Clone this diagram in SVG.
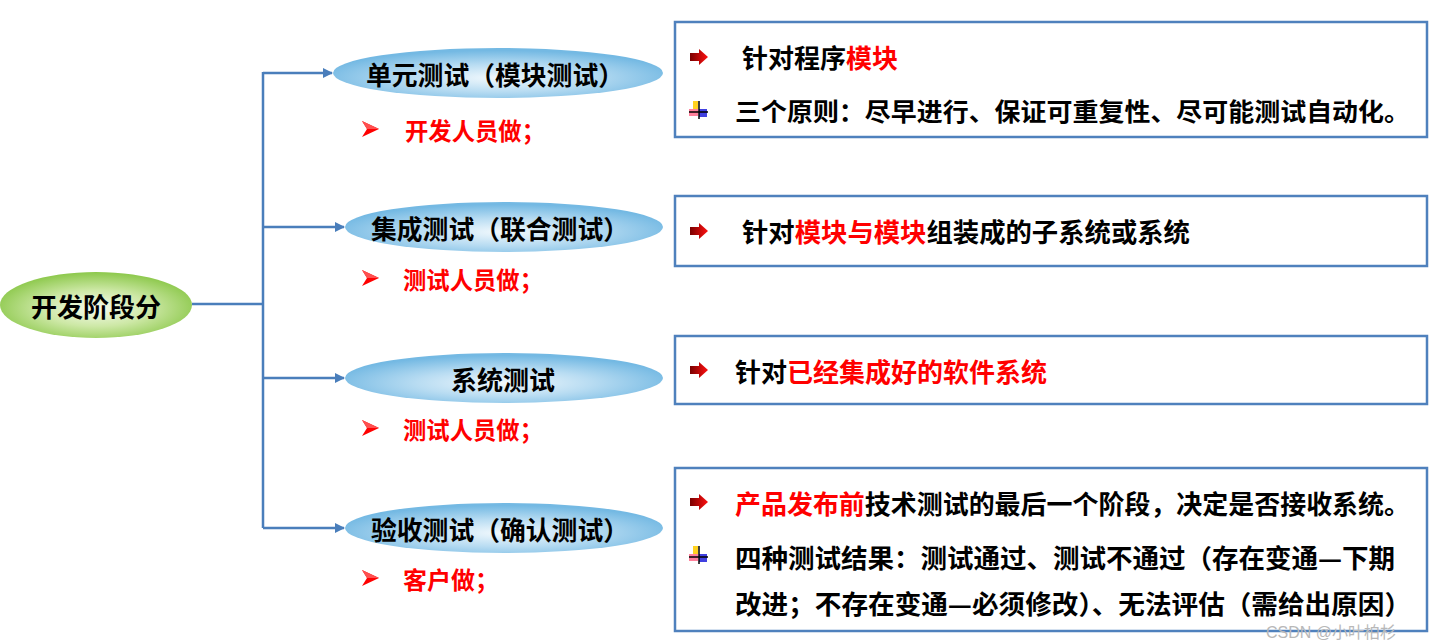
<svg xmlns="http://www.w3.org/2000/svg" width="1434" height="644" viewBox="0 0 1434 644">
<style>
.t{font-family:"Noto Sans CJK SC","Liberation Sans",sans-serif;font-weight:bold;dominant-baseline:central}
.k{fill:#000}
.r{fill:#ff0000}
.box{fill:#fff;stroke:#4f81bd;stroke-width:2.5}
.conn{fill:none;stroke:#4a7ebb;stroke-width:2.5}
</style>
<defs>
<radialGradient id="gb" cx="50%" cy="60%" r="55%">
<stop offset="0" stop-color="#f2f9fd"/>
<stop offset="0.5" stop-color="#b8dcf2"/>
<stop offset="1" stop-color="#74b9e3"/>
</radialGradient>
<radialGradient id="gg" cx="50%" cy="55%" r="55%">
<stop offset="0" stop-color="#f7fbef"/>
<stop offset="0.5" stop-color="#cde8a6"/>
<stop offset="1" stop-color="#8cc84b"/>
</radialGradient>
<linearGradient id="ga" x1="0" y1="0" x2="1" y2="0">
<stop offset="0" stop-color="#7a0000"/>
<stop offset="1" stop-color="#ff1010"/>
</linearGradient>
<marker id="arr" markerWidth="10" markerHeight="10" refX="9" refY="5" orient="auto" markerUnits="userSpaceOnUse">
<path d="M0,0 L10,5 L0,10 Z" fill="#4a7ebb"/>
</marker>
<g id="ra"><path d="M0,4 H9 V0 L18,8 L9,16 V12 H0 Z" fill="url(#ga)"/></g>
<g id="cx">
<rect x="4" y="0" width="5" height="8" fill="#ffd21f"/>
<rect x="0" y="8" width="9" height="7" fill="#ff6a8a" opacity="0.85"/>
<rect x="10" y="8" width="8" height="8" fill="#4040e0"/>
<line x1="10" y1="0" x2="10" y2="18" stroke="#000" stroke-width="1.5"/>
<line x1="0" y1="11" x2="19" y2="11" stroke="#000" stroke-width="1.5"/>
</g>
<g id="ah">
<path d="M0,-8 L17,0 L0,8 L5,0 Z" fill="#ff0000"/>
<path d="M0,-8 L17,0 L5,0 Z" fill="#ff5050"/>
</g>
</defs>
<rect width="1434" height="644" fill="#fff"/>

<g id="connectors">
<polyline class="conn" points="192,304 263,304"/>
<line class="conn" x1="263" y1="72" x2="263" y2="528"/>
<line class="conn" x1="263" y1="73" x2="332" y2="73" marker-end="url(#arr)"/>
<line class="conn" x1="263" y1="227" x2="344" y2="227" marker-end="url(#arr)"/>
<line class="conn" x1="263" y1="378" x2="344" y2="378" marker-end="url(#arr)"/>
<line class="conn" x1="263" y1="528" x2="344" y2="528" marker-end="url(#arr)"/>
</g>

<g id="root">
<ellipse cx="96" cy="305" rx="96" ry="33" fill="url(#gg)"/>
<text class="t k" x="96" y="305" font-size="26" text-anchor="middle">开发阶段分</text>
</g>

<g id="n1">
<ellipse cx="498" cy="73" rx="165" ry="25" fill="url(#gb)"/>
<text class="t k" x="366" y="73" font-size="26" textLength="258" lengthAdjust="spacingAndGlyphs">单元测试（模块测试）</text>
<use href="#ah" x="362" y="129"/>
<text class="t r" x="405" y="129" font-size="24" textLength="140" lengthAdjust="spacingAndGlyphs">开发人员做；</text>
</g>

<g id="n2">
<ellipse cx="504" cy="227" rx="159" ry="25" fill="url(#gb)"/>
<text class="t k" x="371" y="227" font-size="26" textLength="258" lengthAdjust="spacingAndGlyphs">集成测试（联合测试）</text>
<use href="#ah" x="362" y="278"/>
<text class="t r" x="403" y="278" font-size="24" textLength="140" lengthAdjust="spacingAndGlyphs">测试人员做；</text>
</g>

<g id="n3">
<ellipse cx="504" cy="378" rx="159" ry="25" fill="url(#gb)"/>
<text class="t k" x="451" y="378" font-size="26">系统测试</text>
<use href="#ah" x="362" y="428"/>
<text class="t r" x="403" y="428" font-size="24" textLength="140" lengthAdjust="spacingAndGlyphs">测试人员做；</text>
</g>

<g id="n4">
<ellipse cx="504" cy="528" rx="159" ry="25" fill="url(#gb)"/>
<text class="t k" x="371" y="528" font-size="26" textLength="258" lengthAdjust="spacingAndGlyphs">验收测试（确认测试）</text>
<use href="#ah" x="362" y="578"/>
<text class="t r" x="403" y="578" font-size="24">客户做；</text>
</g>

<g id="b1">
<rect class="box" x="675" y="22" width="752" height="115"/>
<use href="#ra" x="690" y="49"/>
<text class="t k" x="742" y="56" font-size="26">针对程序<tspan class="r">模块</tspan></text>
<use href="#cx" x="689" y="101"/>
<text class="t k" x="735" y="110" font-size="25" textLength="675" lengthAdjust="spacingAndGlyphs">三个原则：尽早进行、保证可重复性、尽可能测试自动化。</text>
</g>

<g id="b2">
<rect class="box" x="675" y="196" width="752" height="70"/>
<use href="#ra" x="690" y="223"/>
<text class="t k" x="742" y="230" font-size="26" textLength="448" lengthAdjust="spacingAndGlyphs">针对<tspan class="r">模块与模块</tspan>组装成的子系统或系统</text>
</g>

<g id="b3">
<rect class="box" x="675" y="336" width="752" height="68"/>
<use href="#ra" x="690" y="362"/>
<text class="t k" x="735" y="370" font-size="26">针对<tspan class="r">已经集成好的软件系统</tspan></text>
</g>

<g id="b4">
<rect class="box" x="675" y="468" width="752" height="163"/>
<use href="#ra" x="690" y="494"/>
<text class="t k" x="735" y="502" font-size="26" textLength="675" lengthAdjust="spacingAndGlyphs"><tspan class="r">产品发布前</tspan>技术测试的最后一个阶段，决定是否接收系统。</text>
<use href="#cx" x="689" y="546"/>
<text class="t k" x="735" y="556" font-size="26" textLength="660" lengthAdjust="spacingAndGlyphs">四种测试结果：测试通过、测试不通过（存在变通—下期</text>
<text class="t k" x="735" y="602" font-size="26" textLength="676" lengthAdjust="spacingAndGlyphs">改进；不存在变通—必须修改）、无法评估（需给出原因）</text>
</g>

<text x="1266" y="638" font-family="Liberation Sans,Noto Sans CJK SC,sans-serif" font-size="16" fill="#b8b8b8">CSDN @小叶柏杉</text>
</svg>
